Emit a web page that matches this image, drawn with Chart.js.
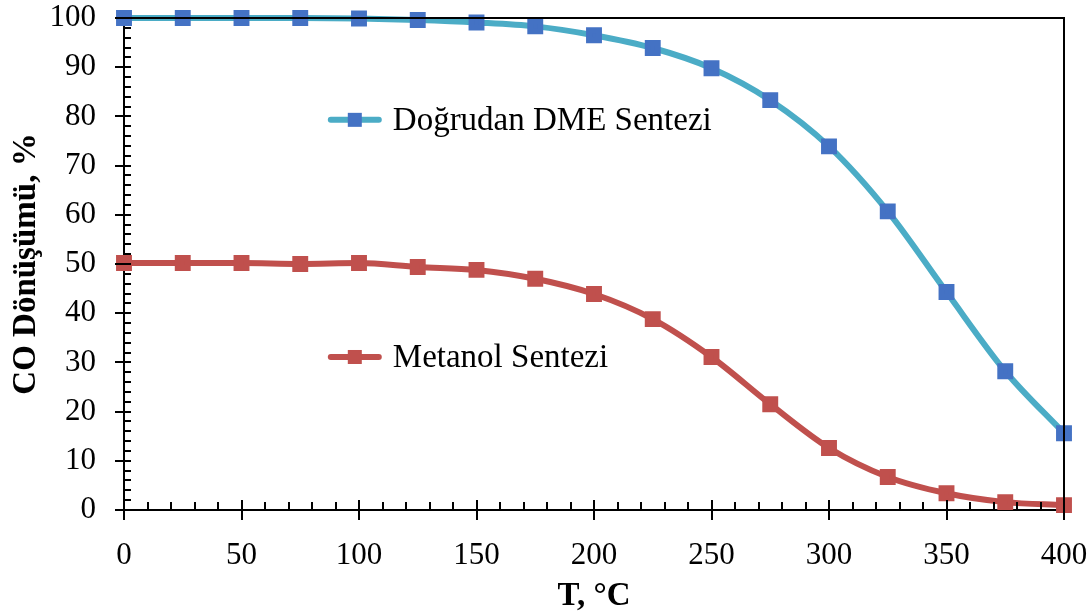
<!DOCTYPE html>
<html><head><meta charset="utf-8">
<script src="https://cdn.jsdelivr.net/npm/chart.js@4.4.0/dist/chart.umd.min.js"></script>
<style>html,body{margin:0;padding:0;background:#fff}#wrap{width:1092px;height:616px}</style>
</head><body><div id="wrap"><canvas id="c" width="1092" height="616"></canvas></div>
<script>
const temperatures = [0,25,50,75,100,125,150,175,200,225,250,275,300,325,350,375,400];
const dmeConversion = [100,100,100,100,99.9,99.6,99.1,98.3,96.5,93.9,89.8,83.3,73.9,60.7,44.3,28.2,15.6];
const methanolConversion = [50.2,50.2,50.2,50.0,50.2,49.4,48.8,47.0,43.9,38.8,31.1,21.5,12.6,6.7,3.4,1.6,1.0];
const xTickLabels = ['0','50','100','150','200','250','300','350','400'];
const yTickLabels = ['0','10','20','30','40','50','60','70','80','90','100'];
const seriesNames = ['Doğrudan DME Sentezi','Metanol Sentezi'];
const xTitle = 'T, °C';
const yTitle = 'CO Dönüşümü, %';

const FONT = "'Liberation Serif','Times New Roman',serif";
const toXY = arr => arr.map((v,i)=>({x:temperatures[i], y:v}));

const framePlugin = {
  id:'frame',
  afterDraw(chart){
    const ctx = chart.ctx, a = chart.chartArea;
    const xs = chart.scales.x, ys = chart.scales.y;
    ctx.save();
    ctx.strokeStyle = '#000'; ctx.lineWidth = 2;
    ctx.beginPath();
    ctx.moveTo(a.left, a.top); ctx.lineTo(a.right, a.top); ctx.lineTo(a.right, a.bottom);
    ctx.stroke();
    for (let v=0; v<=400; v+=10){
      const px = Math.round(xs.getPixelForValue(v));
      ctx.beginPath();
      if (v%50===0){ ctx.moveTo(px, a.bottom-10); ctx.lineTo(px, a.bottom+10); }
      else { ctx.moveTo(px, a.bottom-8); ctx.lineTo(px, a.bottom); }
      ctx.stroke();
    }
    for (let v=0; v<=100; v+=2){
      const py = Math.round(ys.getPixelForValue(v));
      ctx.beginPath();
      if (v%10===0){ ctx.moveTo(a.left-9, py); ctx.lineTo(a.left+7, py); }
      else { ctx.moveTo(a.left, py); ctx.lineTo(a.left+7, py); }
      ctx.stroke();
    }
    ctx.restore();
  },
  afterDatasetsDraw(chart){
    const ctx = chart.ctx;
    const ysc = chart.scales.y;
    const entries = [
      {name:seriesNames[0], line:'#4BACC6', mark:'#4472C4', y:ysc.getPixelForValue(79.3)},
      {name:seriesNames[1], line:'#C0504D', mark:'#C0504D', y:ysc.getPixelForValue(31.1)}
    ];
    const x0 = chart.scales.x.getPixelForValue(88);
    ctx.save();
    entries.forEach(e=>{
      ctx.strokeStyle = e.line; ctx.lineWidth = 6; ctx.lineCap='round';
      ctx.beginPath(); ctx.moveTo(x0, e.y); ctx.lineTo(x0+48, e.y); ctx.stroke();
      ctx.fillStyle = e.mark; ctx.fillRect(x0+24-7, e.y-7, 14, 14);
      ctx.fillStyle = '#000'; ctx.font = "33px "+FONT; ctx.textBaseline='middle'; ctx.textAlign='left';
      ctx.fillText(e.name, x0+62, e.y+1);
    });
    ctx.restore();
  }
};

new Chart(document.getElementById('c'), {
  type:'line',
  data:{ datasets:[
    {label:seriesNames[0], data:toXY(dmeConversion), borderColor:'#4BACC6', backgroundColor:'#4472C4',
     pointBackgroundColor:'#4472C4', pointBorderColor:'#4472C4', borderWidth:6, pointStyle:'rect', pointRadius:7, pointHoverRadius:7,
     cubicInterpolationMode:'monotone', clip:false},
    {label:seriesNames[1], data:toXY(methanolConversion), borderColor:'#C0504D', backgroundColor:'#C0504D',
     pointBackgroundColor:'#C0504D', pointBorderColor:'#C0504D', borderWidth:6, pointStyle:'rect', pointRadius:7, pointHoverRadius:7,
     cubicInterpolationMode:'monotone', clip:false}
  ]},
  options:{
    responsive:false, animation:false, devicePixelRatio:1,
    layout:{padding:{left:0, top:18, right:28, bottom:0}},
    plugins:{legend:{display:false}, tooltip:{enabled:false}},
    scales:{
      x:{type:'linear', min:0, max:400,
        afterFit(s){ s.height = 106; s.paddingLeft = 0; s.paddingRight = 0; },
        afterBuildTicks(s){ s.ticks = xTickLabels.map(t=>({value:Number(t)})); },
        ticks:{color:'#000', font:{family:FONT, size:31}, padding:27, maxRotation:0, autoSkip:false,
          callback:(v)=>String(v)},
        grid:{display:false, drawTicks:false},
        border:{display:true, color:'#000', width:2},
        title:{display:true, text:xTitle, color:'#000', font:{family:FONT, size:33, weight:'bold'}, padding:{top:4,bottom:0}}
      },
      y:{type:'linear', min:0, max:100,
        afterFit(s){ s.width = 124; s.paddingTop = 0; s.paddingBottom = 0; },
        afterBuildTicks(s){ s.ticks = yTickLabels.map(t=>({value:Number(t)})); },
        ticks:{color:'#000', font:{family:FONT, size:31}, padding:28, autoSkip:false, callback:(v)=>String(v)},
        grid:{display:false, drawTicks:false},
        border:{display:true, color:'#000', width:2},
        title:{display:true, text:yTitle, color:'#000', font:{family:FONT, size:33, weight:'bold'}, padding:{top:7,bottom:0}}
      }
    }
  },
  plugins:[framePlugin]
});
</script></body></html>
